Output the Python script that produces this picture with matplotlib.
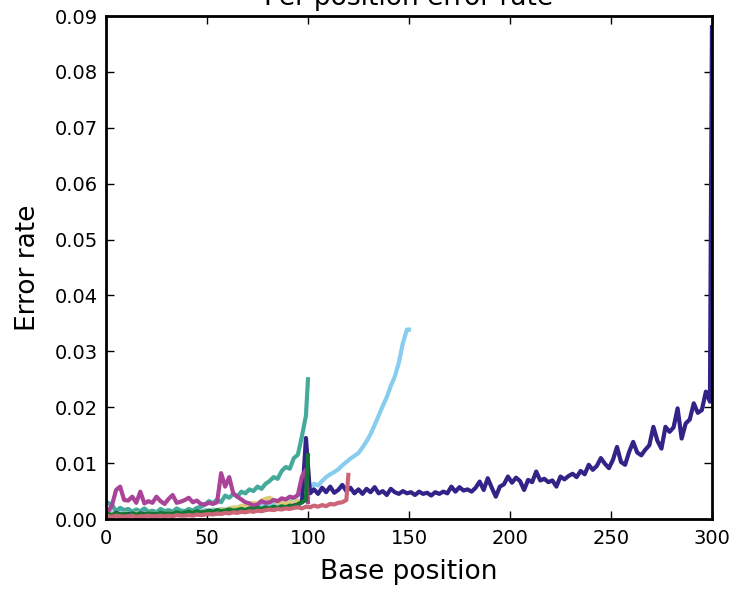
import matplotlib
matplotlib.use("Agg")
import matplotlib.pyplot as plt

# per-position error rates, in units of 1e-3, sampled every 2nd base (1-based positions)
navy_pos = list(range(1, 300, 2)) + [300]
navy_err = [0.9, 0.6, 1.1, 0.8, 0.7, 0.9, 0.8, 0.6, 1.0, 0.8,
            0.7, 0.9, 0.8, 0.7, 0.9, 0.8, 0.8, 1.0, 0.8, 0.9,
            0.8, 1.0, 0.9, 1.1, 0.9, 1.0, 1.1, 1.0, 1.2, 1.1,
            1.2, 1.3, 1.2, 1.4, 1.3, 1.5, 1.4, 1.6, 1.5, 1.7,
            1.8, 1.7, 1.9, 2.0, 2.1, 2.2, 2.4, 2.6, 3.0, 14.5,
            4.6, 5.3, 4.5, 5.6, 4.8, 5.8, 4.7, 5.2, 6.1, 5.0,
            5.6, 4.6, 5.3, 4.5, 5.4, 4.8, 5.7, 4.6, 5.0, 4.3,
            5.4, 4.8, 4.5, 5.0, 4.6, 4.8, 4.3, 4.9, 4.5, 4.7,
            4.2, 4.8, 4.5, 4.9, 4.6, 5.8, 4.9, 5.7, 5.1, 5.3,
            4.9, 5.6, 6.7, 5.2, 7.3, 5.6, 4.0, 5.8, 6.2, 7.6,
            6.5, 7.4, 6.8, 5.2, 7.0, 6.6, 8.5, 6.9, 7.2, 6.6,
            6.9, 5.8, 7.6, 7.1, 7.7, 8.1, 7.5, 8.6, 8.0, 9.7,
            8.8, 9.5, 10.9, 9.9, 9.1, 10.6, 12.9, 10.2, 9.7, 12.0,
            13.8, 11.9, 11.4, 12.4, 13.2, 16.5, 14.0, 12.6, 16.5, 15.6,
            16.4, 19.8, 14.4, 17.1, 17.8, 20.7, 19.0, 19.5, 22.8, 21.0,
            88.0]

lightblue_pos = list(range(1, 150, 2)) + [150]
lightblue_err = [1.5, 1.2, 1.0, 1.3, 1.1, 1.2, 1.0, 1.4, 1.1, 1.2,
                 1.0, 1.3, 1.2, 1.1, 1.3, 1.2, 1.4, 1.1, 1.3, 1.2,
                 1.4, 1.3, 1.5, 1.4, 1.6, 1.5, 1.7, 1.6, 1.8, 1.7,
                 1.9, 1.8, 2.0, 2.1, 2.0, 2.3, 2.2, 2.4, 2.5, 2.4,
                 2.7, 2.6, 2.9, 3.0, 3.2, 3.4, 3.8, 4.2, 4.9, 5.6,
                 5.4, 6.3, 6.0, 6.8, 7.5, 8.0, 8.4, 8.9, 9.6, 10.2,
                 10.8, 11.3, 11.8, 12.8, 13.9, 15.2, 16.8, 18.5, 20.2, 21.8,
                 23.8, 25.5, 28.0, 31.5, 33.9, 33.9]

teal_pos = list(range(1, 100, 2)) + [100]
teal_err = [2.9, 2.5, 1.4, 2.0, 1.6, 1.8, 1.3, 1.7, 1.4, 1.9,
            1.3, 1.5, 1.2, 1.8, 1.4, 1.6, 1.3, 1.9, 1.5, 1.4,
            1.8, 1.5, 2.0, 2.2, 2.6, 3.2, 2.8, 3.5, 3.0, 4.2,
            3.8, 4.5, 4.0, 4.9, 4.6, 5.3, 5.0, 5.8, 5.4, 6.3,
            6.8, 7.5, 7.2, 8.6, 9.3, 9.0, 10.9, 11.5, 14.8, 18.5,
            25.0]

sand_pos = list(range(1, 100, 2)) + [100]
sand_err = [1.2, 0.9, 1.1, 0.8, 1.0, 0.9, 0.8, 1.0, 0.9, 0.8,
            1.0, 0.9, 0.9, 1.0, 0.8, 1.0, 0.9, 1.1, 1.0, 1.0,
            1.2, 1.1, 1.3, 1.2, 1.4, 1.3, 1.5, 1.4, 1.7, 1.6,
            1.9, 2.1, 2.0, 2.4, 2.2, 2.6, 2.9, 2.7, 3.3, 3.6,
            3.8, 3.4, 2.9, 3.1, 2.8, 3.0, 2.9, 3.3, 3.2, 3.6,
            3.8]

purple_pos = list(range(1, 100, 2)) + [100]
purple_err = [1.3, 2.5, 5.2, 5.8, 3.4, 3.3, 4.0, 2.9, 4.9, 2.8,
              3.2, 2.9, 4.0, 3.2, 2.7, 3.6, 4.3, 2.9, 3.1, 3.4,
              3.8, 3.0, 3.3, 2.7, 2.6, 2.9, 2.7, 3.0, 8.2, 5.8,
              7.5, 4.6, 4.0, 3.5, 3.0, 2.8, 2.4, 2.6, 3.2, 2.9,
              3.0, 3.4, 3.2, 3.7, 3.5, 4.0, 3.8, 4.3, 7.6, 8.8,
              3.0]

green_pos = list(range(1, 100, 2)) + [100]
green_err = [0.9, 0.7, 1.0, 0.8, 0.9, 0.7, 1.0, 0.8, 0.9, 0.8,
             1.0, 0.9, 0.8, 1.1, 0.9, 1.0, 0.9, 1.2, 1.0, 1.1,
             1.3, 1.1, 1.4, 1.2, 1.3, 1.5, 1.3, 1.6, 1.4, 1.5,
             1.7, 1.5, 1.6, 1.8, 1.6, 1.9, 1.7, 2.0, 1.8, 2.1,
             1.9, 2.2, 2.0, 2.3, 2.1, 2.4, 2.2, 2.6, 3.0, 3.4,
             11.4]

rose_pos = list(range(1, 120, 2)) + [120]
rose_err = [0.5, 0.4, 0.6, 0.5, 0.4, 0.5, 0.6, 0.4, 0.5, 0.5,
            0.6, 0.5, 0.5, 0.6, 0.5, 0.6, 0.5, 0.7, 0.6, 0.6,
            0.7, 0.6, 0.8, 0.7, 0.8, 0.9, 0.8, 1.0, 0.9, 1.1,
            1.0, 1.2, 1.1, 1.3, 1.2, 1.4, 1.3, 1.5, 1.4, 1.6,
            1.7, 1.6, 1.8, 1.7, 1.9, 1.8, 2.0, 2.1, 1.9, 2.2,
            2.1, 2.4, 2.2, 2.5, 2.3, 2.7, 2.6, 2.9, 3.0, 3.4,
            7.9]

# drawing order matters for overlaps
series = [
    (lightblue_pos, lightblue_err, "#88CCEE"),
    (teal_pos, teal_err, "#44AA99"),
    (sand_pos, sand_err, "#DDCC77"),
    (navy_pos, navy_err, "#332288"),
    (purple_pos, purple_err, "#AA4499"),
    (green_pos, green_err, "#117733"),
    (rose_pos, rose_err, "#CC6677"),
]

fig = plt.figure(figsize=(7.37, 5.90), dpi=100)
ax = fig.add_axes([0.1438, 0.1203, 0.8222, 0.8525])

for pos, err, col in series:
    ax.plot(pos, [e / 1000 for e in err], color=col, lw=3)

ax.set_xlim(0, 300)
ax.set_ylim(0, 0.09)
ax.set_xticks([0, 50, 100, 150, 200, 250, 300])
ax.set_yticks([0.0, 0.01, 0.02, 0.03, 0.04, 0.05, 0.06, 0.07, 0.08, 0.09])
ax.yaxis.set_major_formatter(matplotlib.ticker.FormatStrFormatter("%.2f"))

ax.tick_params(direction="in", length=6, width=1, labelsize=14,
               top=True, right=True)
ax.tick_params(axis="x", pad=7)
ax.tick_params(axis="y", pad=6)
for sp in ax.spines.values():
    sp.set_linewidth(2)

ax.set_xlabel("Base position", fontsize=19, labelpad=8)
ax.set_ylabel("Error rate", fontsize=19, labelpad=10)
ax.set_title("Per-position error rate", fontsize=19, pad=8)

fig.savefig("out.png", dpi=100)
